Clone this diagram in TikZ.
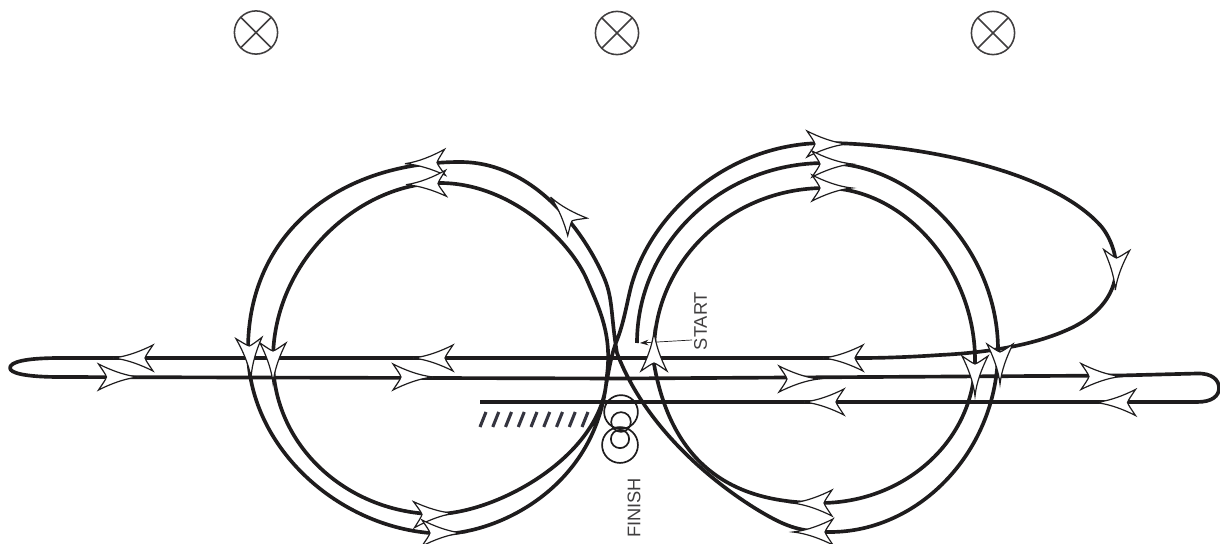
\documentclass[tikz,border=0pt]{standalone}
\usepackage{fontspec}
\usetikzlibrary{arrows.meta}
\setmainfont{Liberation Sans}
\newcommand{\PX}{0.025}
\definecolor{ink}{HTML}{1E1C1D}
\definecolor{hatchink}{HTML}{34343F}
\tikzset{x=\PX cm,y=-\PX cm,
track/.style={draw=ink,line width=2.6pt,line cap=butt,line join=round},
lamp/.style={draw=ink!85,line width=1.1pt,circle,minimum size=1.08cm,inner sep=0,outer sep=0},
ring/.style={draw=ink,line width=1.2pt,circle,inner sep=0,outer sep=0},
lbl/.style={font=\fontsize{13pt}{14pt}\selectfont,text=ink!85,rotate=90,inner sep=0},
hatch/.style={draw=hatchink,line width=2.2pt},
dart/.pic={\draw[ink,fill=white,line width=0.85pt,line join=miter] (20,0) .. controls (6,-1.5) and (-8,-7) .. (-20,-13) .. controls (-16,-7) and (-13,-3) .. (-12,0) .. controls (-13,3) and (-16,7) .. (-20,13) .. controls (-8,7) and (6,1.5) .. cycle;}}
\newcommand{\lampsym}[2]{\node[lamp] (#1) at #2 {}; \draw[ink!85,line width=1.1pt] (#1.45)--(#1.225) (#1.135)--(#1.315);}
\newcommand{\dartat}[2]{\path #1 pic[rotate=-#2,transform shape] {dart};}
\begin{document}
\begin{tikzpicture}
\useasboundingbox (0,0) rectangle (1220,544);
\lampsym{la}{(256,32.5)}
\lampsym{lb}{(617,33)}
\lampsym{lc}{(993,33)}
% long circuit from the centre line
\draw[track] (637,343) .. controls (637,245) and (720,163) .. (825,163)
 .. controls (915,163) and (998,250) .. (998,350)
 .. controls (998,450) and (920,532) .. (830,532)
 .. controls (805,532) and (790,528) .. (770,517)
 .. controls (735,498) and (650,440) .. (617,353)
 .. controls (611,318) and (613,300) .. (605,280)
 .. controls (590,243) and (540,162) .. (460,162)
 .. controls (340,162) and (248,232) .. (248,350)
 .. controls (248,445) and (335,525) .. (430,533)
 .. controls (445,534.3) and (452,534) .. (465,531.5)
 .. controls (525,520) and (600,470) .. (607,375)
 .. controls (612,335) and (600,310) .. (587,280)
 .. controls (570,240) and (510,183) .. (440,183)
 .. controls (360,183) and (273,260) .. (273,360)
 .. controls (273,445) and (345,510) .. (430,514)
 .. controls (490,517) and (597,460) .. (606,385)
 .. controls (609,370) and (611,355) .. (617,340)
 .. controls (625,320) and (628,295) .. (633,280)
 .. controls (655,210) and (730,143) .. (825,143)
 .. controls (900,143) and (1045,165) .. (1100,225)
 .. controls (1110,236) and (1117,255) .. (1116,270)
 .. controls (1115,297) and (1095,318) .. (1067,330)
 .. controls (1040,342) and (1000,352) .. (940,355)
 .. controls (910,357) and (885,358) .. (860,358)
 -- (60,358) .. controls (25,358) and (10,362) .. (10,368) .. controls (10,373) and (25,377) .. (60,377)
 -- (620,378.5) -- (1120,375.5) -- (1197,373.5) .. controls (1212,373) and (1219,380) .. (1219,388) .. controls (1219,396) and (1212,402) .. (1197,402) -- (480,402);
% inner right circuit
\draw[track] (654,352) .. controls (654,262) and (730,188) .. (825,188)
 .. controls (905,188) and (975,270) .. (975,360)
 .. controls (975,440) and (905,503) .. (820,503)
 .. controls (750,503) and (672,480) .. (653,358);
\foreach \i in {0,...,8} \draw[hatch] ({486+12.75*\i},412)--({480+12.75*\i},427);
\node[ring,minimum size=24pt] (r1) at (621,412) {};
\node[ring,minimum size=14pt] (r2) at (621,422) {};
\node[ring,minimum size=25.5pt] (r3) at (620,445) {};
\node[ring,minimum size=13pt] (r4) at (620,439) {};
\node[lbl] (st) at (700.5,321) {START};
\node[lbl] (fi) at (634,508) {FINISH};
\coordinate (sa) at (640,343);
\coordinate (sb) at (692,340);
\draw[ink,line width=0.5pt,-{Stealth[length=6pt,width=4pt]}] (sb)--(sa);
\dartat{(133,358)}{180}
\dartat{(118.5,377)}{0}
\dartat{(433,358)}{180}
\dartat{(413,377)}{0}
\dartat{(843,358)}{180}
\dartat{(799,379)}{0}
\dartat{(824,402)}{180}
\dartat{(1101,376.5)}{0}
\dartat{(1115.5,402.5)}{180}
\dartat{(250,358)}{87}
\dartat{(273,363)}{90}
\dartat{(975,376)}{90}
\dartat{(1000,364)}{90}
\dartat{(654,351)}{-90}
\dartat{(1116,270)}{92}
\dartat{(827,144)}{0}
\dartat{(832,164)}{0}
\dartat{(832,188)}{0}
\dartat{(425,163)}{178}
\dartat{(426,184)}{178}
\dartat{(564,212)}{228}
\dartat{(434,514)}{-2}
\dartat{(442,533)}{0}
\dartat{(812,503)}{180}
\dartat{(813,532)}{180}
\end{tikzpicture}
\end{document}
